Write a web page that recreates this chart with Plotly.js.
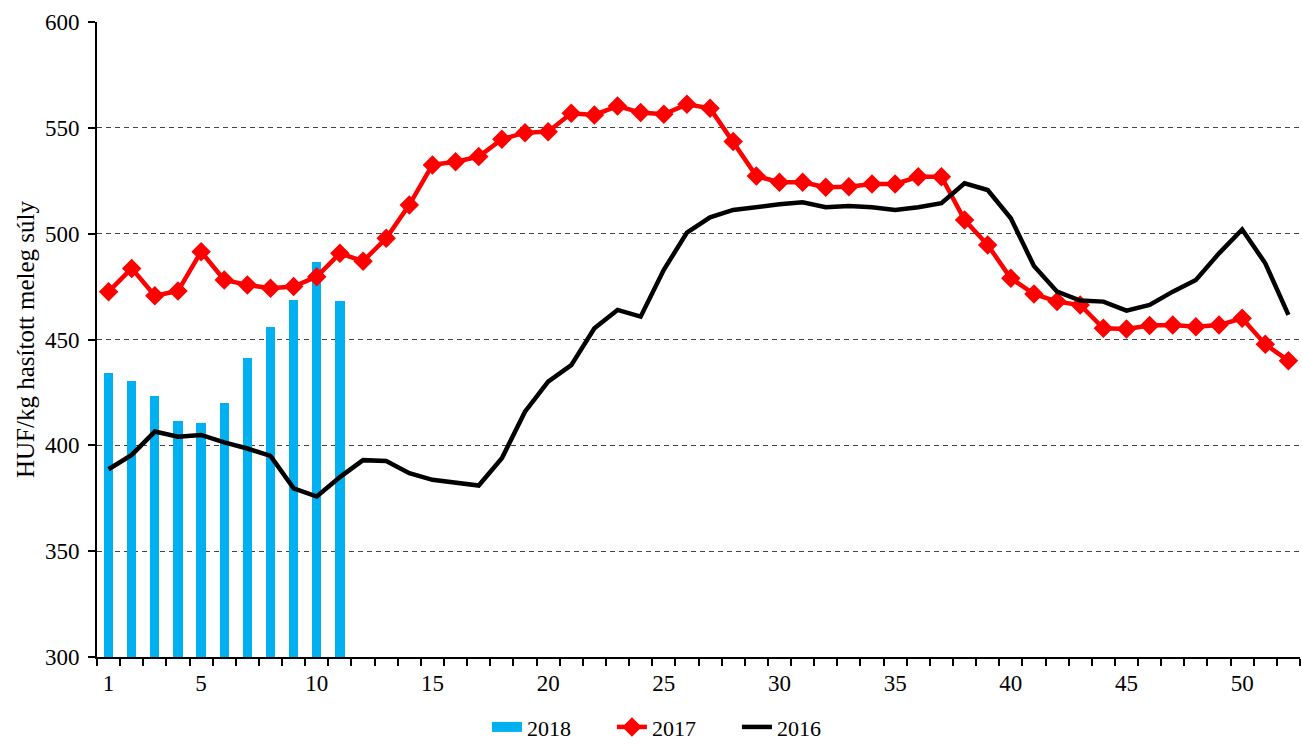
<!DOCTYPE html>
<html>
<head>
<meta charset="utf-8">
<script src="https://cdn.plot.ly/plotly-3.0.1.min.js"></script>
<style>html,body{margin:0;padding:0;background:#fff;}#chart{width:1302px;height:745px;}</style>
</head>
<body>
<div id="chart"></div>
<script>
const weeks = Array.from({length: 52}, (_, i) => i + 1);
const weeks2018 = weeks.slice(0, 11);
const values2018 = [434.2, 430.2, 423.3, 411.6, 410.5, 419.9, 441.3, 455.8, 468.8, 486.6, 468.2];
const values2017 = [472.6, 483.6, 470.7, 472.9, 491.5, 478.1, 475.8, 474.2, 475.0, 479.7, 490.7, 487.0,
  497.8, 513.6, 532.5, 534.0, 536.4, 544.6, 547.7, 548.2, 556.9, 556.1, 560.3, 557.2, 556.4, 561.1,
  559.2, 543.5, 527.2, 524.3, 524.3, 521.9, 522.2, 523.5, 523.5, 526.9, 526.9, 506.5, 494.7, 478.9,
  471.5, 467.9, 466.3, 455.3, 455.0, 456.6, 456.8, 456.0, 456.8, 460.0, 447.7, 440.0];
const values2016 = [388.7, 395.5, 406.5, 404.1, 404.9, 401.4, 398.5, 395.0, 379.7, 375.8, 385.0, 393.0,
  392.6, 386.8, 383.7, 382.6, 381.0, 393.9, 415.9, 430.1, 437.9, 455.3, 464.0, 460.8, 482.9, 500.5,
  507.7, 511.2, 512.8, 513.9, 514.8, 512.5, 513.1, 512.5, 511.2, 512.5, 514.4, 523.8, 520.6, 507.3,
  484.7, 472.6, 468.4, 467.9, 463.6, 466.3, 472.6, 478.1, 490.7, 502.0, 486.0, 461.6];
const xTickVals = [1, 5, 10, 15, 20, 25, 30, 35, 40, 45, 50];
const yTickVals = [300, 350, 400, 450, 500, 550, 600];
const seriesNames = ['2018', '2017', '2016'];
const yTitle = 'HUF/kg hasított meleg súly';

const font = 'Liberation Serif, Times New Roman, serif';
const data = [
  {type: 'bar', x: weeks2018, y: values2018.map(v => v - 300), base: 300, name: seriesNames[0],
   marker: {color: '#00B0F0'}, width: 0.4, showlegend: false},
  // legend-only swatch for the bars (wide rectangle like the original)
  {type: 'scatter', mode: 'lines', x: [null], y: [null], name: seriesNames[0],
   line: {color: '#00B0F0', width: 14}, legendrank: 1},
  {type: 'scatter', mode: 'lines+markers', x: weeks, y: values2017, name: seriesNames[1],
   line: {color: '#FF0000', width: 4.5}, marker: {symbol: 'diamond', size: 15, color: '#FF0000'}, legendrank: 2},
  {type: 'scatter', mode: 'lines', x: weeks, y: values2016, name: seriesNames[2],
   line: {color: '#000000', width: 4.5}, legendrank: 3}
];
const layout = {
  width: 1302, height: 745,
  margin: {l: 97, r: 2, t: 22, b: 88},
  paper_bgcolor: '#fff', plot_bgcolor: '#fff',
  font: {family: font, size: 23, color: '#000'},
  showlegend: true,
  legend: {orientation: 'h', x: 0.518, xanchor: 'center', xref: 'container',
           y: 0.024, yanchor: 'middle', yref: 'container', entrywidth: 80,
           font: {family: font, size: 22}, tracegroupgap: 0, itemsizing: 'trace'},
  bargap: 0,
  xaxis: {range: [0.5, 52.5], tickmode: 'array', tickvals: xTickVals, ticks: '', ticklen: 0,
          showgrid: false, zeroline: false, showline: true, linecolor: '#000', linewidth: 2,
          tickfont: {family: font, size: 23}, ticklabelstandoff: 4, automargin: false,
          minor: {tick0: 0.5, dtick: 1, ticks: 'outside', ticklen: 7, tickwidth: 2, tickcolor: '#000', showgrid: false}},
  yaxis: {range: [300, 600], tickmode: 'array', tickvals: yTickVals, ticks: 'outside', ticklen: 7,
          tickwidth: 2, tickcolor: '#000', showline: true, linecolor: '#000', linewidth: 2,
          showgrid: true, gridcolor: '#444', griddash: '5px,4px', gridwidth: 1.2, zeroline: false,
          tickfont: {family: font, size: 23}, ticklabelstandoff: 4,
          title: {text: yTitle, font: {family: font, size: 25}, standoff: 3}}
};
Plotly.newPlot('chart', data, layout, {displayModeBar: false, staticPlot: true});
</script>
</body>
</html>
